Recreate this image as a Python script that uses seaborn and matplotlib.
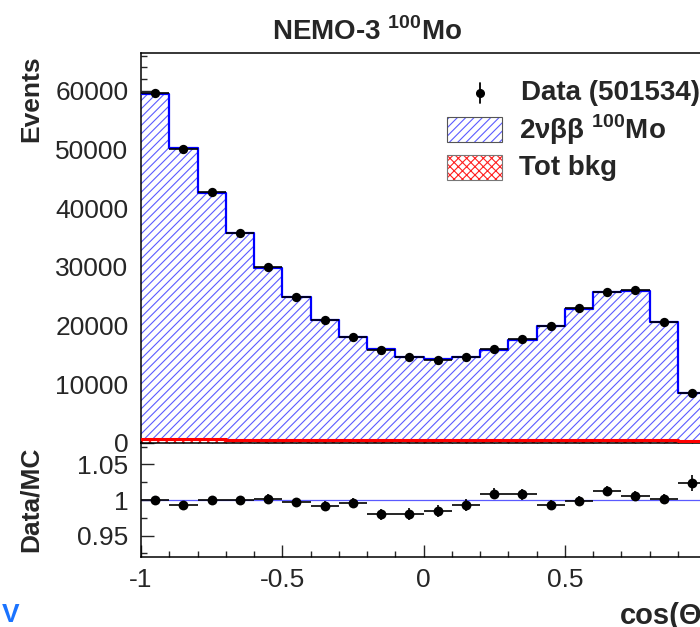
import numpy as np
import matplotlib
matplotlib.use("Agg")
import matplotlib.pyplot as plt
import seaborn as sns
from matplotlib.lines import Line2D
from matplotlib.patches import Rectangle
from matplotlib.ticker import MultipleLocator

# ---------------- data ----------------
bin_edges = [-1.0, -0.9, -0.8, -0.7, -0.6, -0.5, -0.4, -0.3, -0.2, -0.1, 0.0,
             0.1, 0.2, 0.3, 0.4, 0.5, 0.6, 0.7, 0.8, 0.9, 1.0]
bin_centers = [-0.95, -0.85, -0.75, -0.65, -0.55, -0.45, -0.35, -0.25, -0.15, -0.05,
               0.05, 0.15, 0.25, 0.35, 0.45, 0.55, 0.65, 0.75, 0.85, 0.95]
bin_halfwidth = [0.05] * 20

mc_total = [59400, 50300, 42640, 35720, 29870, 24820, 21010, 18060, 16070, 14650,
            14260, 14650, 15790, 17540, 19930, 22880, 25720, 25890, 20670, 8470]
tot_bkg = [700, 640, 600, 570, 550, 530, 510, 500, 490, 480,
           480, 480, 490, 500, 520, 540, 560, 570, 530, 350]
data_counts = [59570, 50030, 42700, 35830, 29900, 24870, 21010, 18000, 15900, 14600,
               14200, 14600, 15960, 17720, 19930, 22940, 25780, 26060, 20620, 8580]
data_err = [244, 224, 207, 189, 173, 158, 145, 134, 126, 121,
            119, 121, 126, 133, 141, 151, 161, 161, 144, 93]

ratio = [1.000, 0.993, 1.000, 1.000, 1.002, 0.997, 0.992, 0.996, 0.980, 0.980,
         0.984, 0.993, 1.009, 1.008, 0.993, 0.999, 1.013, 1.006, 1.002, 1.024]
ratio_err = [0.004, 0.0045, 0.005, 0.0055, 0.006, 0.0065, 0.007, 0.0075, 0.008, 0.0083,
             0.0084, 0.0083, 0.008, 0.0076, 0.0071, 0.0066, 0.0062, 0.0062, 0.007, 0.011]

xticks_ratio = [-1, -0.5, 0, 0.5, 1]
xticklabels_ratio = ["-1", "-0.5", "0", "0.5", "1"]
yticks_top = [0, 10000, 20000, 30000, 40000, 50000, 60000]
yticks_ratio = [0.95, 1.0, 1.05]
yticklabels_ratio = ["0.95", "1", "1.05"]

# ---------------- style ----------------
sns.set_theme(style="ticks")
plt.rcParams["font.family"] = ["Liberation Sans", "DejaVu Sans"]
plt.rcParams["mathtext.fontset"] = "custom"
plt.rcParams["mathtext.rm"] = "Liberation Sans"
plt.rcParams["mathtext.bf"] = "Liberation Sans:bold"
plt.rcParams["axes.unicode_minus"] = False
plt.rcParams["hatch.linewidth"] = 0.8

W, H = 700, 627
fig = plt.figure(figsize=(7, 6.27), dpi=100)

def fx(px):
    return px / W

def fy(py):
    return 1 - py / H

left, right = 141, 706
axr = fig.add_axes([fx(left), fy(557), (right - left) / W, (557 - 443) / H])
ax = fig.add_axes([fx(left), fy(443), (right - left) / W, (443 - 53) / H])

HATCH_BLUE = "#5c5cff"

# MC stack (hatched)
sns.histplot(x=bin_centers, weights=mc_total, bins=bin_edges, element="step",
             fill=True, facecolor="white", edgecolor=HATCH_BLUE, hatch="////",
             linewidth=0, ax=ax, zorder=1)
# background
sns.histplot(x=bin_centers, weights=tot_bkg, bins=bin_edges, element="step",
             fill=True, facecolor="white", edgecolor="#ff2020", hatch="xxxx",
             linewidth=0, ax=ax, zorder=2)
# outlines
sns.histplot(x=bin_centers, weights=mc_total, bins=bin_edges, element="step",
             fill=False, color="#0000ff", linewidth=1.6, ax=ax, zorder=3)
sns.histplot(x=bin_centers, weights=tot_bkg, bins=bin_edges, element="step",
             fill=False, color="#ff0000", linewidth=2.2, ax=ax, zorder=4)

# data
ax.errorbar(bin_centers, data_counts, xerr=bin_halfwidth, yerr=data_err, fmt="none",
            ecolor="black", elinewidth=1.2, capsize=0, zorder=5)
sns.scatterplot(x=bin_centers, y=data_counts, color="black", s=45, edgecolor="black",
                linewidth=0, ax=ax, zorder=6)

ax.set_xlim(-1, 1)
ax.set_ylim(0, 66440)
ax.set_xlabel("")
ax.set_ylabel("")
ax.set_yticks(yticks_top)
ax.set_yticklabels([str(v) for v in yticks_top])
ax.yaxis.set_minor_locator(MultipleLocator(2000))
ax.xaxis.set_major_locator(MultipleLocator(0.2))
ax.xaxis.set_minor_locator(MultipleLocator(0.05))
ax.tick_params(axis="x", which="both", direction="in", labelbottom=False, top=False)
ax.tick_params(axis="x", which="major", length=7, width=1.0)
ax.tick_params(axis="x", which="minor", length=3.5, width=1.0)
ax.tick_params(axis="y", which="major", direction="in", length=9, width=1.0,
               labelsize=19, pad=9, right=False)
ax.tick_params(axis="y", which="minor", direction="in", length=4.5, width=1.0, right=False)
for s in ax.spines.values():
    s.set_linewidth(1.1)
    s.set_color("black")

# ratio panel
axr.axhline(1.0, color="#5a5aff", linewidth=0.9, zorder=1)
axr.errorbar(bin_centers, ratio, xerr=bin_halfwidth, yerr=ratio_err, fmt="none",
             ecolor="black", elinewidth=1.2, capsize=0, zorder=2)
sns.scatterplot(x=bin_centers, y=ratio, color="black", s=50, linewidth=0,
                ax=axr, zorder=3)
axr.set_xlim(-1, 1)
axr.set_ylim(0.92, 1.08)
axr.set_xlabel("")
axr.set_ylabel("")
axr.set_xticks(xticks_ratio)
axr.set_xticklabels(xticklabels_ratio)
axr.set_yticks(yticks_ratio)
axr.set_yticklabels(yticklabels_ratio)
axr.xaxis.set_minor_locator(MultipleLocator(0.1))
axr.yaxis.set_minor_locator(MultipleLocator(0.025))
axr.tick_params(axis="x", which="major", direction="in", length=9, width=1.0,
                labelsize=19, pad=8, top=False)
axr.tick_params(axis="x", which="minor", direction="in", length=4.5, width=1.0, top=False)
axr.tick_params(axis="y", which="major", direction="in", length=9, width=1.0,
                labelsize=19, pad=9, right=False)
axr.tick_params(axis="y", which="minor", direction="in", length=4.5, width=1.0, right=False)
for s in axr.spines.values():
    s.set_linewidth(1.1)
    s.set_color("black")
axr.spines["top"].set_visible(False)

# titles and labels
fig.text(fx(367), fy(32), r"NEMO-3 ${}^{\mathbf{100}}$Mo", ha="center", va="center",
         fontsize=20, fontweight="bold")
fig.text(fx(31), fy(55), "Events", rotation=90, ha="center", va="top",
         fontsize=19, fontweight="bold")
fig.text(fx(31), fy(447), "Data/MC", rotation=90, ha="center", va="top",
         fontsize=19, fontweight="bold")
fig.text(fx(620), fy(616), "cos(Θ)", ha="left", va="center",
         fontsize=21, fontweight="bold")
fig.text(fx(2), fy(603), "V", ha="left", va="top", fontsize=19,
         fontweight="bold", color="#1a73ff")

# legend (manual)
fig.add_artist(Line2D([fx(480), fx(480)], [fy(83), fy(103)], color="black", lw=1.3,
                      transform=fig.transFigure))
fig.add_artist(Line2D([fx(480)], [fy(93)], marker="o", markersize=5.5, color="black",
                      linestyle="none", transform=fig.transFigure))
fig.text(fx(521), fy(93), "Data (501534)", ha="left", va="center", fontsize=20,
         fontweight="bold")

fig.add_artist(Rectangle((fx(447), fy(142)), 55 / W, 25 / H, transform=fig.transFigure,
                         facecolor="white", edgecolor=HATCH_BLUE, hatch="////", linewidth=0))
fig.add_artist(Rectangle((fx(447), fy(142)), 55 / W, 25 / H, transform=fig.transFigure,
                         facecolor="none", edgecolor="#555555", linewidth=0.8))
fig.text(fx(519), fy(130), r"2νββ ${}^{\mathbf{100}}$Mo", ha="left", va="center",
         fontsize=20, fontweight="bold")

fig.add_artist(Rectangle((fx(447), fy(180)), 55 / W, 25 / H, transform=fig.transFigure,
                         facecolor="white", edgecolor="#ff2020", hatch="xxxx", linewidth=0))
fig.add_artist(Rectangle((fx(447), fy(180)), 55 / W, 25 / H, transform=fig.transFigure,
                         facecolor="none", edgecolor="#777777", linewidth=0.8))
fig.text(fx(519), fy(168), "Tot bkg", ha="left", va="center", fontsize=20,
         fontweight="bold")

fig.savefig("out.png", dpi=100)
